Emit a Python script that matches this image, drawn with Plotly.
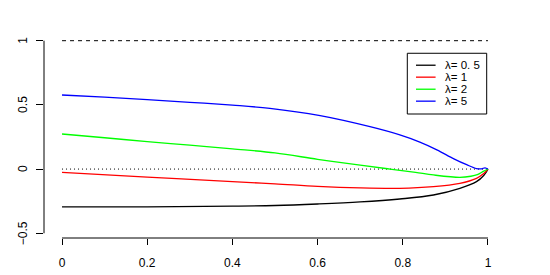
import plotly.graph_objects as go

# ---- data ----
x_black = [0, 0.2, 0.4, 0.5, 0.6, 0.7, 0.793, 0.872, 0.934, 0.973, 0.99, 1]
y_black = [-0.295, -0.294, -0.289, -0.284, -0.272, -0.256, -0.233, -0.202, -0.150, -0.098, -0.05, 0.0]

x_red = [0, 0.2, 0.4, 0.5, 0.6, 0.7, 0.793, 0.872, 0.934, 0.973, 0.99, 1]
y_red = [-0.025, -0.062, -0.098, -0.115, -0.135, -0.147, -0.150, -0.137, -0.111, -0.072, -0.035, 0.0]

x_green = [0, 0.1, 0.2, 0.3, 0.4, 0.5, 0.6, 0.7, 0.77, 0.83, 0.872, 0.934, 0.96, 0.975, 0.99, 1]
y_green = [0.273, 0.244, 0.214, 0.186, 0.157, 0.126, 0.076, 0.030, 0.0, -0.026, -0.046, -0.064, -0.056, -0.044, -0.016, 0.0]

x_blue = [0, 0.1, 0.2, 0.3, 0.4, 0.488, 0.606, 0.723, 0.793, 0.84, 0.88, 0.92, 0.95, 0.973, 0.985, 0.993, 1]
y_blue = [0.577, 0.560, 0.541, 0.520, 0.498, 0.473, 0.416, 0.330, 0.266, 0.210, 0.150, 0.080, 0.034, 0.004, 0.002, 0.010, 0.0]

series_names = ["λ= 0. 5", "λ= 1", "λ= 2", "λ= 5"]
series_colors = ["#000000", "#FF0000", "#00FF00", "#0000FF"]

x_ticks = [0, 0.2, 0.4, 0.6, 0.8, 1]
x_ticklabels = ["0", "0.2", "0.4", "0.6", "0.8", "1"]
y_ticks = [-0.5, 0, 0.5, 1]
y_ticklabels = ["−0.5", "0", "0.5", "1"]

ref_x = [0, 1]
ref_one = [1, 1]
ref_zero = [0, 0]

FONT = "Liberation Sans, Arial, sans-serif"

fig = go.Figure()
fig.add_trace(go.Scatter(x=ref_x, y=ref_one, mode="lines",
                         line=dict(color="black", width=1, dash="4px,4px"), showlegend=False))
fig.add_trace(go.Scatter(x=ref_x, y=ref_zero, mode="lines",
                         line=dict(color="black", width=1, dash="1px,3px"), showlegend=False))

for xs, ys, name, col in zip([x_black, x_red, x_green, x_blue],
                             [y_black, y_red, y_green, y_blue],
                             series_names, series_colors):
    fig.add_trace(go.Scatter(x=xs, y=ys, mode="lines", name=name,
                             line=dict(color=col, width=1.3, shape="spline", smoothing=1.0),
                             showlegend=False))

# axis lines R-style (only over tick range)
fig.add_shape(type="line", xref="x", yref="paper", x0=0, x1=1, y0=0, y1=0,
              line=dict(color="black", width=1))
fig.add_shape(type="line", xref="paper", yref="y", x0=0, x1=0, y0=-0.5, y1=1,
              line=dict(color="black", width=1))

# y tick labels (rotated, R style)
for v, t in zip(y_ticks, y_ticklabels):
    fig.add_annotation(x=0, y=v, xref="paper", yref="y", text=t, showarrow=False,
                       textangle=-90, xanchor="center", yanchor="middle", xshift=-21,
                       font=dict(family=FONT, size=12, color="black"))

# manual legend
leg_x0, leg_x1 = 0.8106, 0.997
leg_ytop, leg_ybot = 0.902, 0.429
fig.add_shape(type="rect", xref="x", yref="y", x0=leg_x0, x1=leg_x1, y0=leg_ybot, y1=leg_ytop,
              line=dict(color="black", width=1), fillcolor="white")
row_y = [0.809, 0.716, 0.622, 0.529]
for name, col, ry in zip(series_names, series_colors, row_y):
    fig.add_shape(type="line", xref="x", yref="y", x0=0.831, x1=0.877, y0=ry, y1=ry,
                  line=dict(color=col, width=1.3))
    fig.add_annotation(x=0.895, y=ry, xref="x", yref="y", text=name, showarrow=False,
                       xanchor="left", yanchor="middle", font=dict(family=FONT, size=11.5, color="black"))

fig.update_layout(
    width=550, height=275,
    margin=dict(l=44, r=44, t=33, b=37),
    paper_bgcolor="white", plot_bgcolor="white",
    font=dict(family=FONT, size=12, color="black"),
    showlegend=False,
)
fig.update_xaxes(range=[-0.0423, 1.0423], tickvals=x_ticks, ticktext=x_ticklabels,
                 ticks="outside", ticklen=6, tickcolor="black", tickwidth=1, automargin=False,
                 showgrid=False, zeroline=False, showline=False,
                 tickfont=dict(family=FONT, size=12, color="black"), ticklabelstandoff=8)
fig.update_yaxes(range=[-0.537, 1.060], tickvals=y_ticks, showticklabels=False,
                 ticks="outside", ticklen=7, tickcolor="black", tickwidth=1, automargin=False,
                 showgrid=False, zeroline=False, showline=False)

fig.write_html("out.html", config={"displayModeBar": False},
               post_script="document.body.style.margin='0';document.body.style.overflow='hidden';")
